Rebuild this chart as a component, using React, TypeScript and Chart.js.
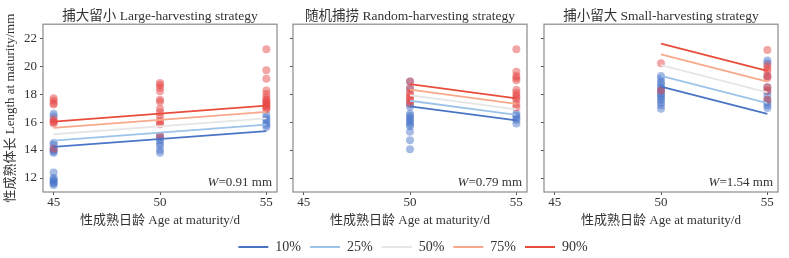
import React, { useEffect, useRef } from 'react';
import { Chart, registerables } from 'chart.js';

Chart.register(...registerables);

const FONT = "'Liberation Serif', 'Noto Sans CJK SC', serif";
const TEXT = '#333333';

// ---- axes / labels ----
const xTicks = [45, 50, 55];
const yTicks = [12, 14, 16, 18, 20, 22];
const xTitle = '性成熟日龄 Age at maturity/d';
const yTitle = '性成熟体长 Length at maturity/mm';
const panelTitles = [
  '捕大留小 Large-harvesting strategy',
  '随机捕捞 Random-harvesting strategy',
  '捕小留大 Small-harvesting strategy',
];
const bandWidths = [0.91, 0.79, 1.54];
const quantileLabels = ['10%', '25%', '50%', '75%', '90%'];

// ---- Large-harvesting points ----
const largeBlue45 = [16.6, 16.4, 14.5, 14.4, 14.1, 14.0, 13.9, 13.8, 12.4, 12.0, 11.9, 11.8, 11.7, 11.6, 11.5];
const largeRed45 = [17.7, 17.55, 17.35, 17.25, 16.2, 16.05, 16.0, 15.9, 14.1];
const largeBlue50 = [15.0, 14.9, 14.7, 14.5, 14.3, 14.0, 13.8];
const largeRed50 = [18.8, 18.65, 18.45, 18.2, 17.6, 17.45, 16.95, 16.7, 16.4, 16.1, 15.95, 15.85, 15.0];
const largeBlue55 = [16.5, 16.3, 16.15, 15.95, 15.8, 15.65];
const largeRed55 = [21.2, 19.7, 19.1, 18.25, 18.0, 17.75, 17.6, 17.5, 17.4, 17.3, 17.2, 17.1, 17.0, 16.9];

// ---- Random-harvesting points ----
const randomBlue50 = [18.9, 18.4, 17.3, 17.1, 16.6, 16.45, 16.3, 16.15, 16.0, 15.85, 15.7, 15.3, 14.7, 14.05];
const randomRed50 = [18.9, 18.4, 18.1, 17.95, 17.8, 17.65, 17.5, 17.35];
const randomBlue55 = [16.6, 16.45, 16.3, 16.15, 15.9];
const randomRed55 = [21.2, 19.6, 19.3, 19.15, 19.0, 18.3, 18.1, 17.9, 17.75, 17.6, 17.3, 17.05];

// ---- Small-harvesting points ----
const smallBlue50 = [19.3, 19.1, 18.85, 18.7, 18.5, 18.35, 18.2, 18.05, 17.9, 17.75, 17.6, 17.4, 17.2, 16.95];
const smallRed50 = [20.2, 18.25];
const smallBlue55 = [20.4, 20.2, 19.3, 18.5, 18.2, 17.9, 17.6, 17.4, 17.2, 17.0];
const smallRed55 = [21.15, 20.05, 19.85, 19.65, 19.3, 19.15, 18.5, 18.25, 17.6];

// ---- quantile regression lines (value at start x, value at end x) ----
const largeLineX = [45, 55];
const largeLineStart = [14.22, 14.675, 15.13, 15.585, 16.04];
const largeLineEnd = [15.36, 15.815, 16.27, 16.725, 17.18];
const randomLineX = [50, 55];
const randomLineStart = [17.13, 17.525, 17.92, 18.315, 18.71];
const randomLineEnd = [16.12, 16.515, 16.91, 17.305, 17.7];
const smallLineX = [50, 55];
const smallLineStart = [18.53, 19.3, 20.07, 20.84, 21.61];
const smallLineEnd = [16.58, 17.35, 18.12, 18.89, 19.66];

// ---- styles ----
const quantileColors = ['#4a75c5', '#9dc3e9', '#e6e6e6', '#f7a98b', '#e84d3c'];
const BLUE_PT = 'rgba(72,116,200,0.48)';
const RED_PT = 'rgba(230,70,70,0.48)';

type Pts = { x: number; y: number }[];
const pts = (x: number, ys: number[]): Pts => ys.map((y) => ({ x, y }));

const panels = [
  {
    blue: [...pts(45, largeBlue45), ...pts(50, largeBlue50), ...pts(55, largeBlue55)],
    red: [...pts(45, largeRed45), ...pts(50, largeRed50), ...pts(55, largeRed55)],
    lineX: largeLineX,
    lineStart: largeLineStart,
    lineEnd: largeLineEnd,
  },
  {
    blue: [...pts(50, randomBlue50), ...pts(55, randomBlue55)],
    red: [...pts(50, randomRed50), ...pts(55, randomRed55)],
    lineX: randomLineX,
    lineStart: randomLineStart,
    lineEnd: randomLineEnd,
  },
  {
    blue: [...pts(50, smallBlue50), ...pts(55, smallBlue55)],
    red: [...pts(50, smallRed50), ...pts(55, smallRed55)],
    lineX: smallLineX,
    lineStart: smallLineStart,
    lineEnd: smallLineEnd,
  },
];

// layout (canvas placement)
const layoutGeom = [
  { left: 0, width: 285, axisW: 43, padRight: 8 },
  { left: 284, width: 252, axisW: 9, padRight: 9 },
  { left: 536, width: 253, axisW: 8, padRight: 11 },
];
const PANEL_H = 232;

Chart.defaults.font.family = FONT;
Chart.defaults.color = TEXT;

function PanelChart({ idx }: { idx: number }) {
  const ref = useRef<HTMLCanvasElement>(null);
  const g = layoutGeom[idx];
  useEffect(() => {
    const p = panels[idx];
    const lineSets = quantileLabels.map((lab, i) => ({
      label: lab,
      data: [
        { x: p.lineX[0], y: p.lineStart[i] },
        { x: p.lineX[1], y: p.lineEnd[i] },
      ],
      showLine: true,
      borderColor: quantileColors[i],
      backgroundColor: quantileColors[i],
      borderWidth: 1.8,
      pointRadius: 0,
    }));
    const framePlugin = {
      id: 'frame' + idx,
      afterDraw(chart: any) {
        const { ctx, chartArea: a } = chart;
        ctx.save();
        ctx.strokeStyle = '#8a8a8a';
        ctx.lineWidth = 1.2;
        ctx.strokeRect(a.left, a.top, a.right - a.left, a.bottom - a.top);
        const rest = '=' + bandWidths[idx].toFixed(2) + ' mm';
        ctx.font = `13px ${FONT}`;
        const rw = ctx.measureText(rest).width;
        ctx.font = `italic 13px ${FONT}`;
        const ww = ctx.measureText('W').width;
        const xr = a.right - 5;
        const y = a.bottom - 9;
        ctx.fillStyle = TEXT;
        ctx.textBaseline = 'middle';
        ctx.textAlign = 'left';
        ctx.fillText('W', xr - rw - ww, y);
        ctx.font = `13px ${FONT}`;
        ctx.fillText(rest, xr - rw, y);
        ctx.restore();
      },
    };
    const chart = new Chart(ref.current!, {
      type: 'scatter',
      data: {
        datasets: [
          ...lineSets,
          { label: 'red', data: p.red, backgroundColor: RED_PT, borderWidth: 0, pointRadius: 4 },
          { label: 'blue', data: p.blue, backgroundColor: BLUE_PT, borderWidth: 0, pointRadius: 4 },
        ] as any,
      },
      options: {
        responsive: false,
        animation: false,
        events: [],
        layout: { padding: { left: 0, right: g.padRight, top: 0, bottom: 0 } },
        plugins: {
          legend: { display: false },
          tooltip: { enabled: false },
          title: {
            display: true,
            text: panelTitles[idx],
            fullSize: false,
            color: TEXT,
            font: { size: 13.5, weight: 'normal', family: FONT },
            padding: { top: 8, bottom: 0 },
          },
        },
        scales: {
          x: {
            type: 'linear',
            min: 44.5,
            max: 55.5,
            afterBuildTicks: (s: any) => {
              s.ticks = xTicks.map((v) => ({ value: v }));
            },
            afterFit: (s: any) => {
              s.height = 40;
            },
            grid: { display: true, drawOnChartArea: false, drawTicks: true, tickLength: 3, color: '#555' },
            border: { display: false },
            ticks: { padding: 0, color: TEXT, font: { size: 13 }, callback: (v: any) => String(v) },
            title: { display: true, text: xTitle, color: TEXT, font: { size: 13 }, padding: { top: 0, bottom: 4 } },
          },
          y: {
            type: 'linear',
            min: 11,
            max: 23,
            afterBuildTicks: (s: any) => {
              s.ticks = yTicks.map((v) => ({ value: v }));
            },
            afterFit: (s: any) => {
              s.width = g.axisW;
            },
            grid: { display: true, drawOnChartArea: false, drawTicks: true, tickLength: 3, color: '#555' },
            border: { display: false },
            ticks: { display: idx === 0, padding: 3, color: TEXT, font: { size: 13 }, callback: (v: any) => String(v) },
            title: { display: idx === 0, text: yTitle, color: TEXT, font: { size: 13 }, padding: { top: 3, bottom: 0 } },
          },
        },
      } as any,
      plugins: [framePlugin],
    });
    return () => chart.destroy();
  }, [idx]);
  return (
    <canvas
      ref={ref}
      width={g.width}
      height={PANEL_H}
      style={{ position: 'absolute', left: g.left, top: 0, width: g.width, height: PANEL_H }}
    />
  );
}

function LegendChart() {
  const ref = useRef<HTMLCanvasElement>(null);
  useEffect(() => {
    const chart = new Chart(ref.current!, {
      type: 'line',
      data: {
        datasets: quantileLabels.map((lab, i) => ({
          label: lab,
          data: [],
          borderColor: quantileColors[i],
          backgroundColor: quantileColors[i],
          borderWidth: 0,
        })),
      },
      options: {
        responsive: false,
        animation: false,
        events: [],
        scales: { x: { display: false }, y: { display: false } },
        plugins: {
          tooltip: { enabled: false },
          legend: {
            position: 'top',
            labels: { boxWidth: 30, boxHeight: 2, padding: 9, color: TEXT, font: { size: 14, family: FONT } },
          },
        },
      } as any,
    });
    return () => chart.destroy();
  }, []);
  return (
    <canvas
      ref={ref}
      width={742}
      height={50}
      style={{ position: 'absolute', left: 42, top: 231, width: 742, height: 50 }}
    />
  );
}

export default function App() {
  return (
    <div
      style={{
        position: 'absolute',
        left: 0,
        top: 0,
        width: 789,
        height: 258,
        overflow: 'hidden',
        background: '#ffffff',
      }}
    >
      <PanelChart idx={0} />
      <PanelChart idx={1} />
      <PanelChart idx={2} />
      <LegendChart />
    </div>
  );
}
